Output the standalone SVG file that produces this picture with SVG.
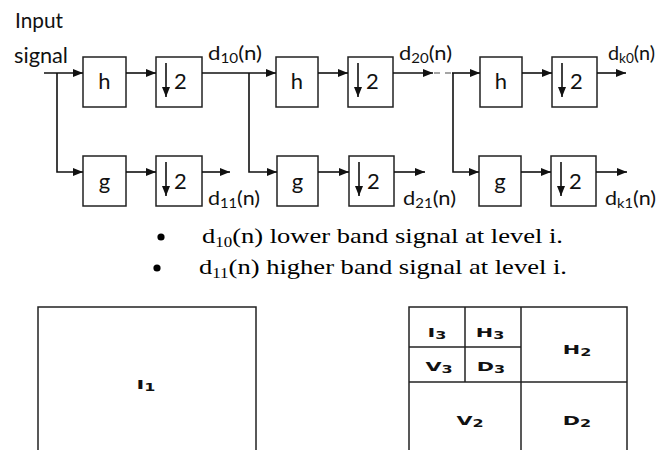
<svg xmlns="http://www.w3.org/2000/svg" width="658" height="450" viewBox="0 0 658 450">
<defs>
<marker id="ah" markerWidth="10" markerHeight="8" refX="10" refY="4" orient="auto" markerUnits="userSpaceOnUse"><path d="M0,0 L10,4 L0,8 z" fill="#111"/></marker>
<style>
.box{fill:#fff;stroke:#222;stroke-width:1.5}
.ln{fill:none;stroke:#111;stroke-width:1.6}
.arr{marker-end:url(#ah)}
.dash{fill:none;stroke:#888;stroke-width:1.6;stroke-dasharray:6 5}
.t{font-family:Lato,"Liberation Sans",sans-serif;font-size:22px;fill:#111}
.in{font-family:Lato,"Liberation Sans",sans-serif;font-size:21px;fill:#111}
.d{font-family:Lato,"Liberation Sans",sans-serif;font-size:19px;fill:#111}
.sub{font-size:13px}
.ser{font-family:"Liberation Serif","Times New Roman",serif;font-size:22px;fill:#000}
.ssub{font-size:14px}
.blk{font-family:"DejaVu Sans",sans-serif;font-weight:bold;font-size:13px;fill:#111}
.bsub{font-size:10px}
.frame{fill:none;stroke:#222;stroke-width:1.5}
</style>
</defs>

<g id="labels">
<text class="in" x="15" y="28" textLength="48" lengthAdjust="spacingAndGlyphs">Input</text>
<text class="in" x="14" y="63" textLength="54" lengthAdjust="spacingAndGlyphs">signal</text>
<text class="d" x="208" y="60" textLength="54" lengthAdjust="spacingAndGlyphs">d<tspan class="sub" dy="3">10</tspan><tspan dy="-3">(n)</tspan></text>
<text class="d" x="399" y="60" textLength="53" lengthAdjust="spacingAndGlyphs">d<tspan class="sub" dy="3">20</tspan><tspan dy="-3">(n)</tspan></text>
<text class="d" x="608" y="60" textLength="47" lengthAdjust="spacingAndGlyphs">d<tspan class="sub" dy="3">k0</tspan><tspan dy="-3">(n)</tspan></text>
<text class="d" x="208" y="205" textLength="52" lengthAdjust="spacingAndGlyphs">d<tspan class="sub" dy="3">11</tspan><tspan dy="-3">(n)</tspan></text>
<text class="d" x="403" y="205" textLength="53" lengthAdjust="spacingAndGlyphs">d<tspan class="sub" dy="3">21</tspan><tspan dy="-3">(n)</tspan></text>
<text class="d" x="605" y="205" textLength="51" lengthAdjust="spacingAndGlyphs">d<tspan class="sub" dy="3">k1</tspan><tspan dy="-3">(n)</tspan></text>
</g>

<g id="h1"><rect class="box" x="83" y="57" width="43" height="50"/><text class="t" x="104.5" y="89" text-anchor="middle">h</text></g>
<g id="ds1"><rect class="box" x="156" y="57" width="46" height="50"/><line class="ln arr" x1="166" y1="63" x2="166" y2="97"/><text class="t" x="174" y="89">2</text></g>
<g id="g1"><rect class="box" x="83" y="156" width="43" height="50"/><text class="t" x="104.5" y="189" text-anchor="middle">g</text></g>
<g id="ds1b"><rect class="box" x="156" y="156" width="46" height="50"/><line class="ln arr" x1="166" y1="162" x2="166" y2="196"/><text class="t" x="174" y="189">2</text></g>

<g id="h2"><rect class="box" x="276" y="57" width="42" height="50"/><text class="t" x="297" y="89" text-anchor="middle">h</text></g>
<g id="ds2"><rect class="box" x="348" y="57" width="45" height="50"/><line class="ln arr" x1="358" y1="63" x2="358" y2="97"/><text class="t" x="366" y="89">2</text></g>
<g id="g2"><rect class="box" x="277" y="156" width="41" height="50"/><text class="t" x="297.5" y="189" text-anchor="middle">g</text></g>
<g id="ds2b"><rect class="box" x="349" y="156" width="45" height="50"/><line class="ln arr" x1="359" y1="162" x2="359" y2="196"/><text class="t" x="367" y="189">2</text></g>

<g id="h3"><rect class="box" x="480" y="57" width="42" height="50"/><text class="t" x="501" y="89" text-anchor="middle">h</text></g>
<g id="ds3"><rect class="box" x="552" y="57" width="45" height="50"/><line class="ln arr" x1="562" y1="63" x2="562" y2="97"/><text class="t" x="570" y="89">2</text></g>
<g id="g3"><rect class="box" x="479" y="156" width="42" height="50"/><text class="t" x="500" y="189" text-anchor="middle">g</text></g>
<g id="ds3b"><rect class="box" x="551" y="156" width="45" height="50"/><line class="ln arr" x1="561" y1="162" x2="561" y2="196"/><text class="t" x="569" y="189">2</text></g>

<g id="connectors">
<path class="ln arr" d="M44,73 H83"/>
<path class="ln arr" d="M57,73 V172 H83"/>
<path class="ln arr" d="M126,73 H156"/>
<path class="ln arr" d="M126,172 H156"/>
<path class="ln arr" d="M202,73 H276"/>
<path class="ln arr" d="M249,73 V172 H277"/>
<path class="ln arr" d="M202,172 H230"/>
<path class="ln arr" d="M318,73 H348"/>
<path class="ln arr" d="M318,172 H349"/>
<path class="ln arr" d="M393,73 H433"/>
<path class="dash" d="M434,73 H452"/>
<path class="ln arr" d="M452,73 H480"/>
<path class="ln arr" d="M453,73 V172 H479"/>
<path class="ln arr" d="M394,172 H425"/>
<path class="ln arr" d="M522,73 H552"/>
<path class="ln arr" d="M521,172 H551"/>
<path class="ln arr" d="M597,73 H626"/>
<path class="ln arr" d="M596,172 H627"/>
</g>

<g id="bullets">
<circle cx="161" cy="237" r="3.6" fill="#000"/>
<circle cx="157" cy="268" r="3.6" fill="#000"/>
<text class="ser" x="202" y="243" textLength="361" lengthAdjust="spacingAndGlyphs">d<tspan class="ssub" dy="4">10</tspan><tspan dy="-4">(n) lower band signal at level i.</tspan></text>
<text class="ser" x="199" y="274" textLength="368" lengthAdjust="spacingAndGlyphs">d<tspan class="ssub" dy="4">11</tspan><tspan dy="-4">(n) higher band signal at level i.</tspan></text>
</g>

<g id="image-left">
<rect class="frame" x="38" y="307" width="218" height="160"/>
<text class="blk" transform="translate(146,389) scale(1.6,1)" text-anchor="middle">I<tspan class="bsub" dy="2">1</tspan></text>
</g>

<g id="image-right">
<rect class="frame" x="409" y="307" width="218" height="160"/>
<line class="frame" x1="521" y1="307" x2="521" y2="467"/>
<line class="frame" x1="409" y1="382" x2="627" y2="382"/>
<line class="frame" x1="465" y1="307" x2="465" y2="382"/>
<line class="frame" x1="409" y1="347" x2="521" y2="347"/>
<text class="blk" transform="translate(437,337) scale(1.6,1)" text-anchor="middle">I<tspan class="bsub" dy="2">3</tspan></text>
<text class="blk" transform="translate(490,337) scale(1.6,1)" text-anchor="middle">H<tspan class="bsub" dy="2">3</tspan></text>
<text class="blk" transform="translate(439,371) scale(1.6,1)" text-anchor="middle">V<tspan class="bsub" dy="2">3</tspan></text>
<text class="blk" transform="translate(491,371) scale(1.6,1)" text-anchor="middle">D<tspan class="bsub" dy="2">3</tspan></text>
<text class="blk" transform="translate(577,354) scale(1.6,1)" text-anchor="middle">H<tspan class="bsub" dy="2">2</tspan></text>
<text class="blk" transform="translate(470,425) scale(1.6,1)" text-anchor="middle">V<tspan class="bsub" dy="2">2</tspan></text>
<text class="blk" transform="translate(577,425) scale(1.6,1)" text-anchor="middle">D<tspan class="bsub" dy="2">2</tspan></text>
</g>
</svg>
